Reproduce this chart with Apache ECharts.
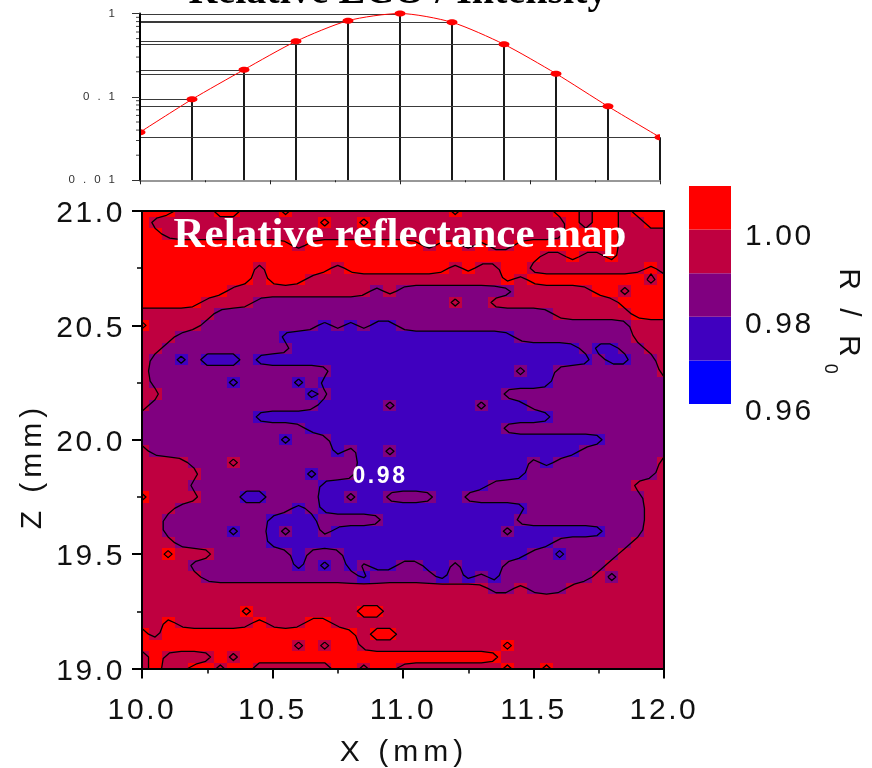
<!DOCTYPE html>
<html>
<head>
<meta charset="utf-8">
<style>html,body{margin:0;padding:0;background:#fff}#c{width:872px;height:768px}</style>
<script src="https://cdn.jsdelivr.net/npm/echarts@6/dist/echarts.min.js"></script>
</head>
<body>
<div id="c"></div>
<script>
// ---------- top panel: relative intensity ----------
const scanX = [10.0, 10.2, 10.4, 10.6, 10.8, 11.0, 11.2, 11.4, 11.6, 11.8, 12.0];
const intensity = [0.0377, 0.0935, 0.212, 0.464, 0.82, 1.0, 0.784, 0.427, 0.19, 0.077, 0.0328];
const logTickLabels = ['0.01', '0.1', '1'];
const logMinorTicks = [0.02,0.03,0.04,0.05,0.06,0.07,0.08,0.09,0.2,0.3,0.4,0.5,0.6,0.7,0.8,0.9];

// ---------- reflectance map ----------
const mapX = Array.from({length: 41}, (_, i) => +(10 + i * 0.05).toFixed(2));
const mapZ = Array.from({length: 41}, (_, j) => +(21 - j * 0.05).toFixed(2));
const levelValues = [0.965, 0.975, 0.985, 0.995, 1.005];
const levelColors = ['#0000ff', '#4000bf', '#800080', '#bf0040', '#ff0000'];
const contourLevels = [0.98, 0.99, 1.00];
const legendEdges = [0.96, 0.97, 0.98, 0.99, 1.00, 1.01];
// each row, z = 21.00 downwards: level index, last column of that level, level index, last column ...
const rowRuns = [
[4,2,3,5,4,7,3,10,4,11,3,23,4,24,3,31,4,33,3,34,4,36,3,37,4,40],
[4,0,3,13,4,14,3,16,4,17,3,32,4,33,3,34,4,36,3,38,4,40],
[4,1,3,32,4,36,3,40],
[4,11,3,12,4,21,3,22,4,24,3,25,4,26,3,28,4,36,3,40],
[4,30,3,32,4,33,3,35,4,36,3,40],
[4,8,3,9,4,14,3,15,4,23,3,24,4,25,3,27,4,29,3,38,4,39,3,40],
[4,8,3,9,4,12,3,27,4,28,3,29,4,38,3,39,4,40],
[4,6,3,17,2,18,3,19,2,28,3,34,4,36,3,37,4,40],
[4,4,3,8,2,23,3,24,2,26,3,36,4,40],
[3,5,2,31,3,37,4,40],
[4,0,3,4,2,13,1,14,2,15,1,16,2,17,1,19,2,37,3,40],
[3,2,2,10,1,28,2,37,3,40],
[3,1,2,11,1,33,2,34,1,36,2,38,3,40],
[3,0,2,2,1,3,2,4,1,7,2,8,1,34,2,35,1,37,2,39,3,40],
[3,0,2,14,1,28,2,29,1,31,2,39,3,40],
[3,0,2,6,1,7,2,11,1,12,2,13,1,31,2,40],
[3,1,2,12,1,13,2,14,1,27,2,40],
[3,0,2,13,1,18,2,19,1,25,2,26,1,29,2,40],
[2,8,1,31,2,40],
[2,12,1,27,2,40],
[2,10,1,11,2,14,1,35,2,40],
[3,0,2,14,1,15,2,16,1,18,2,19,1,33,2,40],
[3,3,2,6,3,7,2,16,1,29,2,30,1,31,2,39,3,40],
[3,4,2,12,1,13,2,16,1,29,2,39,3,40],
[3,3,2,13,1,26,2,37,3,40],
[4,0,3,4,2,7,1,9,2,13,1,15,2,16,1,18,2,22,1,24,2,38,3,40],
[3,2,2,11,1,12,2,13,1,29,2,38,3,40],
[3,1,2,9,1,13,2,18,1,28,2,38,3,40],
[3,1,2,6,1,7,2,9,1,10,2,11,1,13,2,14,1,27,2,28,1,35,2,38,3,40],
[3,2,2,9,1,31,2,37,3,40],
[3,1,4,2,3,5,2,11,1,12,2,15,1,29,2,31,1,32,2,36,3,40],
[3,3,2,11,1,12,2,13,1,14,2,15,1,16,2,17,1,19,2,21,1,23,2,24,1,27,2,35,3,40],
[3,4,2,16,1,17,2,22,1,23,2,24,1,25,2,26,1,27,2,34,3,35,2,36,3,40],
[3,26,2,28,3,29,2,32,3,40],
[3,40],
[3,7,4,8,3,16,4,18,3,40],
[3,1,4,2,3,8,4,9,3,12,4,14,3,40],
[4,0,3,1,4,16,3,17,4,19,3,40],
[4,11,3,12,4,13,3,14,4,16,3,27,4,28,3,40],
[3,0,4,1,3,5,4,6,3,7,4,27,3,40],
[3,0,4,1,3,3,4,5,3,6,4,8,3,14,4,16,3,17,4,19,3,27,4,28,3,30,4,31,3,40]
];

// expand runs to a value matrix
const grid = rowRuns.map(runs => {
  const row = [];
  for (let k = 0; k < runs.length; k += 2) {
    while (row.length <= runs[k + 1]) row.push(levelValues[runs[k]]);
  }
  return row;
});
const cellData = [];
grid.forEach((row, j) => row.forEach((v, i) => cellData.push([mapX[i], mapZ[j], v])));

// a lone cell only just crosses its contour level, so its contour stays tight around the centre
const contourGrid = grid.map((row, j) => row.map((v, i) => {
  const n = [];
  if (j > 0) n.push(grid[j - 1][i]);
  if (j < 40) n.push(grid[j + 1][i]);
  if (i > 0) n.push(row[i - 1]);
  if (i < 40) n.push(row[i + 1]);
  if (n.every(u => u > v)) return v + 0.0028;
  if (n.every(u => u < v)) return v - 0.0028;
  return v;
}));

// marching squares on the matrix, chained into polylines and lightly relaxed
function contourLines() {
  const lines = [];
  contourLevels.forEach(t => {
    const segs = [];
    for (let j = 0; j < 40; j++) for (let i = 0; i < 40; i++) {
      const g = contourGrid;
      const a = g[j][i], b = g[j][i + 1], c = g[j + 1][i + 1], d = g[j + 1][i];
      const x0 = mapX[i], x1 = mapX[i + 1], z0 = mapZ[j], z1 = mapZ[j + 1];
      const cross = (u, v) => (u < t) !== (v < t);
      const f = (u, v) => (t - u) / (v - u);
      const top = cross(a, b) ? [x0 + (x1 - x0) * f(a, b), z0] : null;
      const right = cross(b, c) ? [x1, z0 + (z1 - z0) * f(b, c)] : null;
      const bottom = cross(d, c) ? [x0 + (x1 - x0) * f(d, c), z1] : null;
      const left = cross(a, d) ? [x0, z0 + (z1 - z0) * f(a, d)] : null;
      const pts = [top, right, bottom, left].filter(Boolean);
      if (pts.length === 2) segs.push([pts[0], pts[1]]);
      else if (pts.length === 4) {
        const high = (a + b + c + d) / 4 >= t;
        if (high === (a >= t)) { segs.push([top, right]); segs.push([bottom, left]); }
        else { segs.push([top, left]); segs.push([bottom, right]); }
      }
    }
    const key = p => p[0].toFixed(5) + ',' + p[1].toFixed(5);
    const at = new Map();
    segs.forEach((s, n) => s.forEach(p => {
      const k = key(p);
      if (!at.has(k)) at.set(k, []);
      at.get(k).push(n);
    }));
    const used = new Array(segs.length).fill(false);
    const walk = n0 => {
      used[n0] = true;
      const out = [segs[n0][0], segs[n0][1]];
      for (;;) {
        const k = key(out[out.length - 1]);
        const next = (at.get(k) || []).find(n => !used[n]);
        if (next === undefined) break;
        used[next] = true;
        const s = segs[next];
        out.push(key(s[0]) === k ? s[1] : s[0]);
      }
      return out;
    };
    // open chains first (they start at a single-segment end)
    segs.forEach((s, n) => {
      if (used[n]) return;
      if (at.get(key(s[0])).length === 1) lines.push(walk(n));
      else if (at.get(key(s[1])).length === 1) { segs[n] = [s[1], s[0]]; lines.push(walk(n)); }
    });
    segs.forEach((s, n) => { if (!used[n]) lines.push(walk(n)); });
  });
  return lines.map(relax);
}
function relax(pts) {
  const closed = pts.length > 3 && pts[0][0] === pts[pts.length - 1][0] && pts[0][1] === pts[pts.length - 1][1];
  if (pts.length < 10) return pts;
  const N = pts.length;
  return pts.map((p, i) => {
    if (closed) {
      const q = i === N - 1 ? pts[0] : p;
      const a = i === 0 || i === N - 1 ? pts[N - 2] : pts[i - 1];
      const b = i === N - 1 ? pts[1] : pts[i + 1];
      return [q[0] * 0.5 + (a[0] + b[0]) * 0.25, q[1] * 0.5 + (a[1] + b[1]) * 0.25];
    }
    if (i === 0 || i === N - 1) return p;
    return [p[0] * 0.5 + (pts[i - 1][0] + pts[i + 1][0]) * 0.25, p[1] * 0.5 + (pts[i - 1][1] + pts[i + 1][1]) * 0.25];
  });
}
const contourPolylines = contourLines();

// the reference's labels are widely tracked: apply that tracking when the canvas draws them
const nativeFillText = CanvasRenderingContext2D.prototype.fillText;
CanvasRenderingContext2D.prototype.fillText = function (t, x, y, m) {
  const size = parseFloat((/([\d.]+)px/.exec(this.font) || [0, 0])[1]);
  let sp = 0;
  if (/Liberation Sans/.test(this.font)) {
    if (size < 14) sp = 8;
    else if (/^[\d.]+$/.test(t)) sp = 2.6;
    else sp = 5;
  }
  this.letterSpacing = sp + 'px';
  return m === undefined ? nativeFillText.call(this, t, x, y) : nativeFillText.call(this, t, x, y, m);
};

const SANS = '"Liberation Sans"', SERIF = '"Liberation Serif"';
const chart = echarts.init(document.getElementById('c'), null, {renderer: 'canvas'});
const ink = '#111';
const bigAxis = {
  type: 'value', z: 10, gridIndex: 1,
  axisLine: {show: true, onZero: false, lineStyle: {color: '#000', width: 2}},
  splitLine: {show: false}
};
function txt(text, x, y, fontSize, opt) {
  return Object.assign({
    type: 'text', x, y, z: 100, silent: true,
    style: Object.assign({text, fontSize, fontFamily: SANS, fill: ink, align: 'center', verticalAlign: 'middle'}, opt || {})
  });
}

chart.setOption({
  animation: false,
  backgroundColor: '#fff',
  grid: [
    {left: 140, top: 13.5, width: 520, height: 166.8},
    {left: 142, top: 211, width: 522, height: 457.5},
    {left: 689, top: 186, width: 42, height: 218}
  ],
  xAxis: [
    {type: 'value', gridIndex: 0, min: 10, max: 12, interval: 0.5, z: 10,
     axisLine: {show: true, onZero: false, lineStyle: {color: '#777', width: 1.5}},
     axisTick: {show: true, length: 4, lineStyle: {color: '#222', width: 1}},
     minorTick: {show: true, splitNumber: 2, length: 2, lineStyle: {color: '#222', width: 1}},
     axisLabel: {show: false}, splitLine: {show: false}},
    Object.assign({}, bigAxis, {min: 10, max: 12, interval: 0.5,
     axisTick: {show: true, length: 10, lineStyle: {color: '#000', width: 2}},
     minorTick: {show: true, splitNumber: 2, length: 5, lineStyle: {color: '#000', width: 1.5}},
     axisLabel: {show: true, margin: 27, color: ink, fontSize: 30, fontFamily: SANS, formatter: v => v.toFixed(1)}}),
    Object.assign({}, bigAxis, {position: 'top', min: 10, max: 12, axisTick: {show: false}, axisLabel: {show: false}}),
    {type: 'value', gridIndex: 2, min: 0, max: 1, show: false}
  ],
  yAxis: [
    {type: 'log', logBase: 10, gridIndex: 0, min: 0.01, max: 1, z: 10,
     axisLine: {show: true, onZero: false, lineStyle: {color: '#000', width: 2}},
     axisTick: {show: true, length: 8, lineStyle: {color: '#333', width: 1}},
     minorTick: {show: false}, splitLine: {show: false},
     axisLabel: {show: true, margin: 17, color: '#333', fontSize: 11.5, fontFamily: SANS, formatter: (v, i) => logTickLabels[i]}},
    Object.assign({}, bigAxis, {min: 19, max: 21, interval: 0.5,
     axisTick: {show: true, length: 10, lineStyle: {color: '#000', width: 2}},
     minorTick: {show: true, splitNumber: 2, length: 5, lineStyle: {color: '#000', width: 1.5}},
     axisLabel: {show: true, margin: 17, color: ink, fontSize: 30, fontFamily: SANS, verticalAlign: 'top', lineHeight: 6, formatter: v => v.toFixed(1)}}),
    Object.assign({}, bigAxis, {position: 'right', min: 19, max: 21, axisTick: {show: false}, axisLabel: {show: false}}),
    {type: 'value', gridIndex: 2, position: 'right', min: 0.96, max: 1.01, interval: 0.02,
     axisLine: {show: false}, axisTick: {show: false}, splitLine: {show: false},
     axisLabel: {show: true, margin: 14, color: ink, fontSize: 30, fontFamily: SANS, showMaxLabel: false,
       verticalAlign: 'top', lineHeight: 15, formatter: v => v.toFixed(2)}}
  ],
  series: [
    // minor ticks of the log axis
    {type: 'custom', xAxisIndex: 0, yAxisIndex: 0, silent: true, z: 3,
     data: logMinorTicks.map(v => [10, v]),
     renderItem: (p, api) => {
       const c = api.coord([10, api.value(1)]);
       return {type: 'line', shape: {x1: c[0] - 4, y1: c[1], x2: c[0], y2: c[1]}, style: {stroke: '#444', lineWidth: 1}};
     }},
    // reference lines from each intensity point to the axes
    {type: 'custom', xAxisIndex: 0, yAxisIndex: 0, silent: true, z: 3,
     data: scanX.map((x, i) => [x, intensity[i]]),
     renderItem: (p, api) => {
       const c = api.coord([api.value(0), api.value(1)]);
       const left = api.coord([10, api.value(1)]), bot = api.coord([api.value(0), 0.01]);
       return {type: 'group', children: [
         {type: 'line', shape: {x1: left[0], y1: Math.round(c[1]) + 0.5, x2: c[0], y2: Math.round(c[1]) + 0.5}, style: {stroke: '#3a3a3a', lineWidth: 1}},
         {type: 'line', shape: {x1: Math.round(c[0]), y1: c[1], x2: Math.round(c[0]), y2: bot[1]}, style: {stroke: '#000', lineWidth: 1.8}}
       ]};
     }},
    {type: 'line', xAxisIndex: 0, yAxisIndex: 0, smooth: 0.25, symbol: 'none', silent: true, z: 4,
     data: scanX.map((x, i) => [x, intensity[i]]),
     lineStyle: {color: '#ff0000', width: 1}},
    {type: 'custom', xAxisIndex: 0, yAxisIndex: 0, silent: true, z: 5,
     data: scanX.map((x, i) => [x, intensity[i]]),
     renderItem: (p, api) => {
       const c = api.coord([api.value(0), api.value(1)]);
       const l = api.coord([10, 1]), r = api.coord([12, 1]);
       return {type: 'ellipse', shape: {cx: c[0], cy: c[1], rx: 5.5, ry: 3}, style: {fill: '#ff0000'},
         clipPath: {type: 'rect', shape: {x: l[0], y: l[1] - 10, width: r[0] - l[0], height: 200}}};
     }},
    // reflectance cells
    {type: 'custom', xAxisIndex: 1, yAxisIndex: 1, silent: true, z: 2, progressive: 0,
     encode: {x: 0, y: 1},
     data: cellData,
     renderItem: (p, api) => {
       const x = api.value(0), z = api.value(1), v = api.value(2);
       const a = api.coord([x - 0.025, z + 0.025]), b = api.coord([x + 0.025, z - 0.025]);
       const shape = echarts.graphic.clipRectByRect(
         {x: Math.round(a[0]), y: Math.round(a[1]), width: Math.round(b[0]) - Math.round(a[0]), height: Math.round(b[1]) - Math.round(a[1])},
         p.coordSys);
       if (!shape) return null;
       return {type: 'rect', shape, style: {fill: levelColors[Math.floor((v - 0.96) / 0.01)]}};
     }},
    // contour lines through the same matrix
    {type: 'custom', xAxisIndex: 1, yAxisIndex: 1, silent: true, z: 3, progressive: 0,
     data: contourPolylines.map((l, i) => [l[0][0], l[0][1], i]),
     encode: {x: 0, y: 1},
     renderItem: (p, api) => {
       const pts = contourPolylines[api.value(2)].map(q => api.coord(q));
       return {type: 'polyline', shape: {points: pts}, style: {stroke: '#000', fill: 'none', lineWidth: 1.3, lineJoin: 'round'}};
     }},
    // colour scale
    {type: 'custom', xAxisIndex: 3, yAxisIndex: 3, silent: true, z: 2,
     data: levelColors.map((c, i) => [legendEdges[i], legendEdges[i + 1], i]),
     renderItem: (p, api) => {
       const a = api.coord([0, api.value(1)]), b = api.coord([1, api.value(0)]);
       return {type: 'rect', shape: {x: a[0], y: a[1], width: b[0] - a[0], height: b[1] - a[1]}, style: {fill: levelColors[api.value(2)]}};
     }}
  ],
  graphic: [
    txt('Relative LCO / Intensity', 398, 13, 40, {fontFamily: SERIF, fontWeight: 'bold', fill: '#000', verticalAlign: 'bottom'}),
    txt('Relative reflectance map', 400, 236, 43, {fontFamily: SERIF, fontWeight: 'bold', fill: '#fff'}),
    txt('0.98', 380, 477, 23, {fill: '#fff', fontWeight: 'bold'}),
    txt('X (mm)', 404, 753, 30),
    Object.assign(txt('Z (mm)', 33, 466, 30), {rotation: Math.PI / 2}),
    Object.assign(txt('R / R', 848, 315, 30), {rotation: -Math.PI / 2}),
    Object.assign(txt('0', 830, 370, 18), {rotation: -Math.PI / 2})
  ]
});
</script>
</body>
</html>
